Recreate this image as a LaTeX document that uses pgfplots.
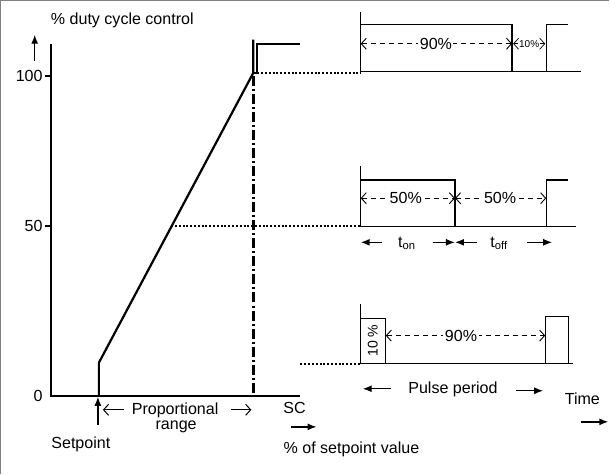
\documentclass[border=0pt]{standalone}
\usepackage{fontspec}
\setmainfont{Liberation Sans}
\usepackage{pgfplots}
\pgfplotsset{compat=1.18}
\usetikzlibrary{arrows.meta}
\begin{document}
\fontsize{16bp}{19bp}\selectfont
\begin{tikzpicture}[
  fa/.style={-{Latex[length=9bp,width=7bp]}},
  ob/.style={{Straight Barb[length=5bp,width=11bp]}-{Straight Barb[length=5bp,width=11bp]}},
  obr/.style={-{Straight Barb[length=5bp,width=11bp]}},
  dsh/.style={dash pattern=on 5bp off 4bp},
  dot/.style={line width=1.7bp, dash pattern=on 2bp off 1.8bp},
]
\begin{axis}[
  scale only axis, width=610bp, height=477bp,
  xmin=0, xmax=610, ymin=0, ymax=477, y dir=reverse,
  axis lines=none, clip=false,
]
% frame
\addplot[gray, line width=1.2bp] coordinates {(3,477) (3,5) (610,5)};
% axes
\addplot[black, line width=1.6bp] coordinates {(53,48) (53,399) (302,399)};
\addplot[black, line width=1.6bp] coordinates {(47,80) (53,80)};
\addplot[black, line width=1.6bp] coordinates {(47,230) (53,230)};
% y arrow
\addplot[black, line width=1.4bp, fa] coordinates {(37,65) (37,39)};
% ramp
\addplot[black, line width=2.2bp] coordinates {(101,399) (101,366) (255,77) (255,44)};
\addplot[black, line width=1.8bp] coordinates {(255,77) (259,77) (259,48) (302,48)};
% dash-dot
\addplot[black, line width=2.3bp, dash pattern=on 10bp off 3bp on 2bp off 3bp] coordinates {(255,80) (255,399)};
% dotted lines
\addplot[black, dot] coordinates {(259,77) (362,77)};
\addplot[black, dot] coordinates {(173,230) (362,230)};
\addplot[black, dot] coordinates {(302,367) (362,367)};
% setpoint arrow
\addplot[black, line width=1.4bp, fa] coordinates {(100,428) (100,400)};
% proportional range arrows
\addplot[black, line width=1bp, obr] coordinates {(126,413) (105,413)};
\addplot[black, line width=1bp, obr] coordinates {(233,413) (253,413)};
% SC arrow
\addplot[black, line width=1.4bp, fa] coordinates {(293,430) (318,430)};
% Time arrow
\addplot[black, line width=1.4bp, fa] coordinates {(582,425) (609,425)};

% top pulse train (90%)
\addplot[black, line width=1.3bp] coordinates {(362,16) (362,76) (582,76)};
\addplot[black, line width=1.3bp] coordinates {(362,29) (513,29) (513,76)};
\addplot[black, line width=1.3bp] coordinates {(547,76) (547,29) (569,29)};
\addplot[black, line width=0.9bp, dsh, ob] coordinates {(362,48) (513,48)};
\addplot[black, line width=0.7bp, ob] coordinates {(514,48) (546,48)};

% middle pulse train (50%)
\addplot[black, line width=1.3bp] coordinates {(362,170) (362,230) (577,230)};
\addplot[black, line width=1.3bp] coordinates {(362,184) (456,184) (456,230)};
\addplot[black, line width=1.3bp] coordinates {(547,230) (547,184) (569,184)};
\addplot[black, line width=0.9bp, dsh, ob] coordinates {(362,202) (456,202)};
\addplot[black, line width=0.9bp, dsh, ob] coordinates {(456,202) (547,202)};
% ton / toff arrows
\addplot[black, line width=1.4bp, fa] coordinates {(383,246) (362,246)};
\addplot[black, line width=1.4bp, fa] coordinates {(434,246) (456,246)};
\addplot[black, line width=1.4bp, fa] coordinates {(478,246) (456,246)};
\addplot[black, line width=1.4bp, fa] coordinates {(528,246) (553,246)};

% bottom pulse train (10%)
\addplot[black, line width=1.3bp] coordinates {(362,307) (362,367) (574,367)};
\addplot[black, line width=1.3bp] coordinates {(362,322) (387,322) (387,367)};
\addplot[black, line width=1.3bp] coordinates {(546,367) (546,320) (569,320) (569,367)};
\addplot[black, line width=0.9bp, dsh, ob] coordinates {(387,339) (546,339)};
% pulse period arrows
\addplot[black, line width=1.4bp, fa] coordinates {(392,392) (364,392)};
\addplot[black, line width=1.4bp, fa] coordinates {(517,394) (544,394)};

% texts
\node[anchor=base west, inner sep=0] at (axis cs:53,29) {\% duty cycle control};
\node[anchor=east, inner sep=0] at (axis cs:45,80) {100};
\node[anchor=east, inner sep=0] at (axis cs:45,230) {50};
\node[anchor=east, inner sep=0] at (axis cs:45,399) {0};
\node[anchor=base, inner sep=0] at (axis cs:177,418) {Proportional};
\node[anchor=base, inner sep=0] at (axis cs:178,433) {range};
\node[anchor=base, inner sep=0] at (axis cs:83,452) {Setpoint};
\node[anchor=base, inner sep=0] at (axis cs:296,417) {SC};
\node[anchor=base west, inner sep=0] at (axis cs:285,457) {\% of setpoint value};
\node[anchor=base, inner sep=0] at (axis cs:454,397) {Pulse period};
\node[anchor=base, inner sep=0] at (axis cs:583,408) {Time};
\node[anchor=base, inner sep=0] at (axis cs:408,251) {t\textsubscript{on}};
\node[anchor=base, inner sep=0] at (axis cs:500,251) {t\textsubscript{off}};
\node[fill=white, inner sep=1.5bp] at (axis cs:437,48) {90\%};
\node[fill=white, inner sep=1bp] at (axis cs:530,48) {\fontsize{10bp}{11bp}\selectfont 10\%};
\node[fill=white, inner sep=1.5bp] at (axis cs:407,202) {50\%};
\node[fill=white, inner sep=1.5bp] at (axis cs:501,202) {50\%};
\node[fill=white, inner sep=1.5bp] at (axis cs:462,339) {90\%};
\node[rotate=90, inner sep=0] at (axis cs:374,344) {\fontsize{14bp}{16bp}\selectfont 10 \%};
\end{axis}
\end{tikzpicture}
\end{document}
